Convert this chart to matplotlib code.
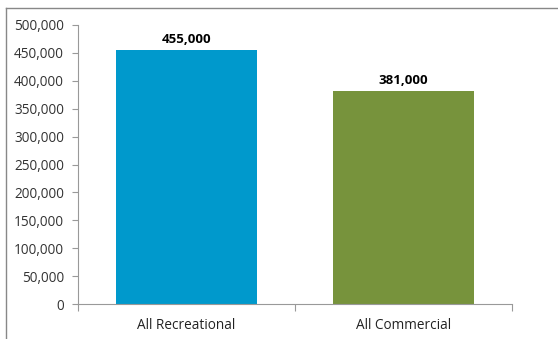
import matplotlib
matplotlib.use("Agg")
from matplotlib import pyplot as plt
from matplotlib.lines import Line2D

# Data
categories = ["All Recreational", "All Commercial"]
values = [455000, 381000]
colors = ["#0099CC", "#77933C"]
yticks = [0, 50000, 100000, 150000, 200000, 250000, 300000, 350000, 400000, 450000, 500000]

plt.rcParams['font.family'] = ['Open Sans', 'DejaVu Sans']

W, H = 558, 339
fig = plt.figure(figsize=(W / 100, H / 100), dpi=100)
ax = fig.add_axes([78 / W, 1 - 304 / H, (512 - 78) / W, (304 - 25) / H])

x = list(range(len(categories)))
ax.bar(x, values, width=0.65, color=colors)
for xi, v in zip(x, values):
    ax.text(xi, v + 8000, f"{v:,}", ha='center', va='bottom', fontsize=9.5, fontweight='bold')

ax.set_xlim(-0.5, 1.5)
ax.set_ylim(0, 500000)
ax.set_yticks(yticks)
ax.set_yticklabels([f"{t:,}" for t in yticks], fontsize=9.8, color='#333333')
ax.set_xticks([-0.5, 0.5, 1.5])
ax.set_xticklabels([])
ax.set_xticks(x, minor=True)
ax.set_xticklabels(categories, minor=True, fontsize=9.8, color='#222222')
ax.tick_params(axis='x', which='minor', length=0, pad=10)
ax.tick_params(axis='x', which='major', length=5, color='#999999')
ax.tick_params(axis='y', length=4, color='#999999', pad=6)

for s in ['top', 'right']:
    ax.spines[s].set_visible(False)
for s in ['left', 'bottom']:
    ax.spines[s].set_color('#999999')

# outer frame lines (top and left)
fig.add_artist(Line2D([6 / W, 1], [1 - 8 / H, 1 - 8 / H], color='#888888', lw=1))
fig.add_artist(Line2D([6 / W, 6 / W], [0, 1 - 8 / H], color='#888888', lw=1))

fig.savefig("out.png", dpi=100)
